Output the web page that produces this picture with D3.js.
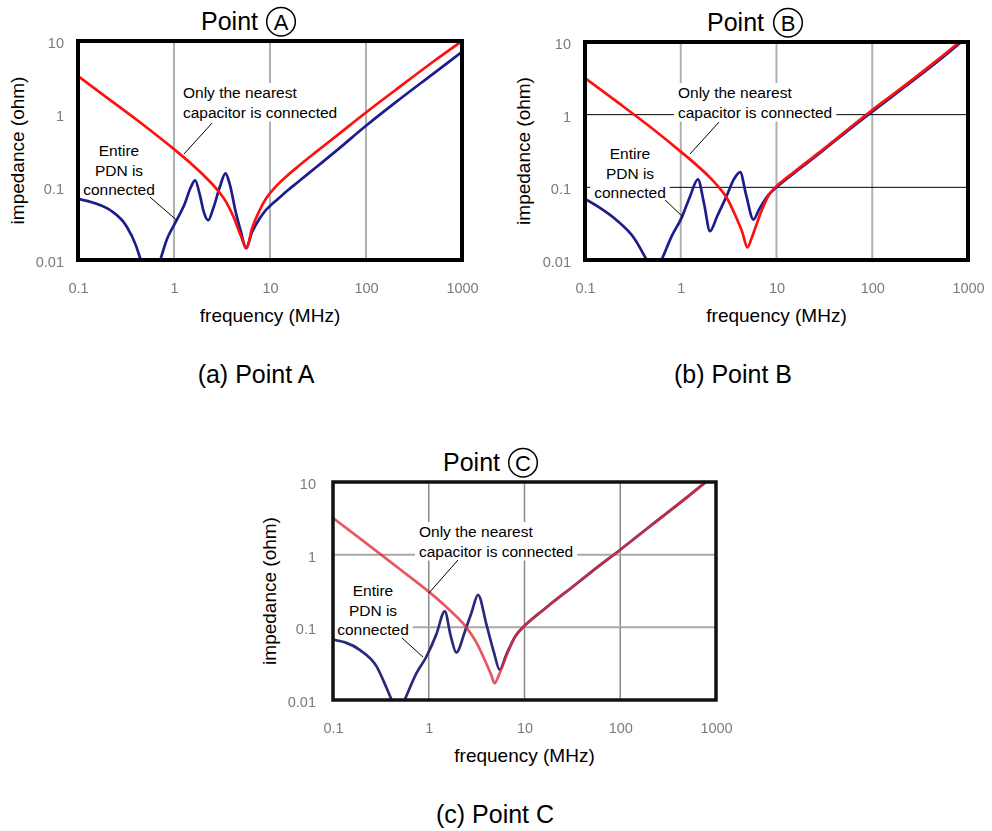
<!DOCTYPE html>
<html><head><meta charset="utf-8">
<script src="https://cdn.jsdelivr.net/npm/d3@7"></script>
<style>body{margin:0;background:#fff;} svg{display:block;font-family:Arial,"Liberation Sans",sans-serif;}</style>
</head><body>
<svg id="chart" width="992" height="831"></svg>
<script>
// ---------- data ----------
const freqTicks = [0.1, 1, 10, 100, 1000];
const freqTickLabels = ["0.1", "1", "10", "100", "1000"];
const impTicks = [0.01, 0.1, 1, 10];
const impTickLabels = ["0.01", "0.1", "1", "10"];
const xTitle = "frequency (MHz)";
const yTitle = "impedance (ohm)";
const pointLetters = ["A", "B", "C"];
const captions = ["(a) Point A", "(b) Point B", "(c) Point C"];
const nearestLabel = ["Only the nearest", "capacitor is connected"];
const entireLabel = ["Entire", "PDN is", "connected"];

// [frequency MHz, impedance ohm]
const pointA_nearest = [[0.1,3.3],[0.2,1.68],[0.5,0.68],[1,0.33],[1.5,0.21],[2,0.148],[2.5,0.11],[3,0.083],[3.5,0.062],[4.13,0.04],[5,0.021],[5.7,0.0145],[6.5,0.027],[7.8,0.048],[9,0.068],[10,0.082],[12,0.108],[15,0.142],[20,0.195],[30,0.3],[50,0.51],[100,1.05],[200,2.1],[500,5.2],[1000,10]];
const pointA_entire = [[0.1,0.069],[0.15,0.06],[0.217,0.048],[0.32,0.029],[0.4,0.016],[0.44,0.011],[0.5,0.0065],[0.58,0.005],[0.66,0.0068],[0.72,0.01],[0.84,0.019],[1,0.03],[1.3,0.06],[1.5,0.1],[1.66,0.123],[1.85,0.08],[2.05,0.045],[2.27,0.035],[2.55,0.05],[3,0.1],[3.44,0.154],[3.8,0.11],[4.4,0.045],[5,0.024],[5.6,0.0145],[6.5,0.024],[7.8,0.037],[9,0.048],[10,0.055],[12,0.068],[15,0.088],[20,0.12],[30,0.185],[50,0.32],[100,0.69],[200,1.42],[500,3.55],[1000,7.1]];

const pointB_nearest = [[0.1,3.2],[0.2,1.62],[0.5,0.65],[1,0.31],[1.5,0.197],[2,0.138],[2.5,0.1],[3,0.073],[3.69,0.042],[4.4,0.024],[4.97,0.0149],[5.5,0.02],[5.97,0.027],[7,0.048],[8.2,0.076],[10,0.104],[12,0.127],[15,0.16],[20,0.215],[30,0.325],[50,0.56],[100,1.16],[200,2.3],[500,5.9],[1000,12.5]];
const pointB_entire = [[0.1,0.069],[0.15,0.05],[0.21,0.036],[0.33,0.0195],[0.44,0.01],[0.5,0.0072],[0.55,0.0062],[0.6,0.0085],[0.66,0.0115],[0.8,0.021],[1.02,0.038],[1.25,0.075],[1.51,0.129],[1.75,0.06],[2.02,0.025],[2.4,0.04],[3,0.075],[3.6,0.13],[4.17,0.162],[4.8,0.08],[5.74,0.036],[6.6,0.05],[8.2,0.078],[10,0.1],[12,0.122],[15,0.154],[20,0.207],[30,0.315],[50,0.54],[100,1.1],[200,2.2],[500,5.6],[1000,12]];

const pointC_nearest = [[0.1,3.2],[0.2,1.6],[0.5,0.63],[1,0.31],[1.5,0.195],[2,0.136],[2.47,0.1],[3.14,0.062],[3.98,0.032],[4.5,0.022],[4.87,0.017],[5.4,0.022],[6.45,0.04],[8,0.075],[10,0.105],[12,0.13],[15,0.165],[20,0.225],[30,0.34],[50,0.58],[100,1.17],[200,2.4],[500,6.2],[1000,13]];
const pointC_entire = [[0.1,0.068],[0.19,0.049],[0.285,0.029],[0.36,0.015],[0.41,0.01],[0.46,0.0075],[0.5,0.0072],[0.56,0.01],[0.74,0.023],[0.95,0.04],[1.2,0.08],[1.47,0.166],[1.7,0.075],[1.94,0.045],[2.4,0.09],[2.8,0.16],[3.27,0.28],[4,0.11],[4.8,0.045],[5.5,0.026],[6.45,0.042],[8,0.075],[10,0.105],[12,0.13],[15,0.165],[20,0.225],[30,0.34],[50,0.58],[100,1.17],[200,2.4],[500,6.2],[1000,13]];

// leader-line anchors in data units: [from text, to curve]
const pointA_leaders = [[[2.49,0.75],[1.27,0.283]], [[0.56,0.073],[1.07,0.035]]];
const pointB_leaders = [[[2.51,0.79],[1.25,0.288]], [[0.686,0.067],[1.056,0.039]]];
const pointC_leaders = [[[2.02,0.845],[1.006,0.297]], [[0.526,0.0713],[0.871,0.039]]];

// ---------- layout ----------
const panels = [
  {id:"A", left:78, right:462, top:41, bottom:260, nearest:pointA_nearest, entire:pointA_entire, leaders:pointA_leaders,
   letter:pointLetters[0], caption:captions[0], titleX:201, titleY:30, circX:281, circY:21.7, capX:256, capY:383,
   yLabRight:64, yTitleX:23.5, nearestPos:[105,57], entirePos:[41,115],
   vGrid:{color:"#b0b0b0", w:2}, hGrid:null, red:"#ff1010", blue:"#1c1c8c", redOp:1, border:4, borderColor:"#000", blur:false},
  {id:"B", left:585, right:968, top:42, bottom:260, nearest:pointB_nearest, entire:pointB_entire, leaders:pointB_leaders,
   letter:pointLetters[1], caption:captions[1], titleX:707, titleY:30.5, circX:788, circY:22.7, capX:733, capY:383,
   yLabRight:571, yTitleX:530, nearestPos:[93,56], entirePos:[45,117],
   vGrid:{color:"#b0b0b0", w:2}, hGrid:{color:"#000", w:1}, red:"#ff1010", blue:"#1c1c8c", redOp:1, border:4, borderColor:"#000", blur:false},
  {id:"C", left:333, right:716, top:482, bottom:700, nearest:pointC_nearest, entire:pointC_entire, leaders:pointC_leaders,
   letter:pointLetters[2], caption:captions[2], titleX:443, titleY:471, circX:523, circY:462.7, capX:495, capY:823,
   yLabRight:316, yTitleX:276, nearestPos:[86,55], entirePos:[40,114],
   vGrid:{color:"#8a8a8a", w:1.5}, hGrid:{color:"#a8a8a8", w:2}, red:"#e0303c", blue:"#2a2a7c", redOp:0.8, border:3.5, borderColor:"#111", blur:true}
];

const svg = d3.select("#chart");
const defs = svg.append("defs");
defs.append("filter").attr("id","soft").append("feGaussianBlur").attr("stdDeviation",0.55);
defs.append("filter").attr("id","softText").append("feGaussianBlur").attr("stdDeviation",0.35);

function drawPanel(p) {
  const g = svg.append("g");
  const x = d3.scaleLog().domain([0.1, 1000]).range([p.left, p.right]);
  const y = d3.scaleLog().domain([0.01, 10]).range([p.bottom, p.top]);

  defs.append("clipPath").attr("id", "clip" + p.id).append("rect")
    .attr("x", p.left).attr("y", p.top).attr("width", p.right - p.left).attr("height", p.bottom - p.top);

  const grid = g.append("g").attr("filter", p.blur ? "url(#soft)" : null);
  grid.selectAll("line.v").data(freqTicks.slice(1, -1)).enter().append("line")
    .attr("x1", d => x(d)).attr("x2", d => x(d)).attr("y1", p.top).attr("y2", p.bottom)
    .attr("stroke", p.vGrid.color).attr("stroke-width", p.vGrid.w);
  if (p.hGrid) {
    grid.selectAll("line.h").data(impTicks.slice(1, -1)).enter().append("line")
      .attr("y1", d => y(d)).attr("y2", d => y(d)).attr("x1", p.left).attr("x2", p.right)
      .attr("stroke", p.hGrid.color).attr("stroke-width", p.hGrid.w);
  }

  // annotation texts with white backgrounds
  function label(lines, px, py, anchor) {
    const lg = g.append("g");
    const t = lg.append("text").attr("font-size", 15.5).attr("fill", "#000").attr("text-anchor", anchor);
    lines.forEach((s, i) => {
      t.append("tspan").attr("x", p.left + px).attr("y", p.top + py + i * 19.5).text(s);
    });
    const bb = t.node().getBBox();
    lg.insert("rect", "text").attr("x", bb.x - 4).attr("y", bb.y - 1).attr("width", bb.width + 8).attr("height", bb.height + 2).attr("fill", "#fff");
  }
  label(nearestLabel, p.nearestPos[0], p.nearestPos[1], "start");
  label(entireLabel, p.entirePos[0], p.entirePos[1], "middle");

  const line = d3.line().x(d => x(d[0])).y(d => y(d[1])).curve(d3.curveMonotoneX);
  const cg = g.append("g").attr("clip-path", "url(#clip" + p.id + ")").attr("filter", p.blur ? "url(#soft)" : null);
  cg.append("path").datum(p.entire).attr("d", line).attr("fill", "none")
    .attr("stroke", p.blue).attr("stroke-width", 2.7).attr("stroke-linejoin", "round");
  cg.append("path").datum(p.nearest).attr("d", line).attr("fill", "none")
    .attr("stroke", p.red).attr("stroke-opacity", p.redOp).attr("stroke-width", 2.7).attr("stroke-linejoin", "round");

  g.selectAll("line.lead").data(p.leaders).enter().append("line")
    .attr("x1", d => x(d[0][0])).attr("y1", d => y(d[0][1]))
    .attr("x2", d => x(d[1][0])).attr("y2", d => y(d[1][1]))
    .attr("stroke", "#000").attr("stroke-width", 1);

  g.append("rect").attr("x", p.left).attr("y", p.top).attr("width", p.right - p.left).attr("height", p.bottom - p.top)
    .attr("fill", "none").attr("stroke", p.borderColor).attr("stroke-width", p.border);

  // axes (labels only)
  const xa = g.append("g").attr("transform", `translate(0,${p.bottom})`)
    .call(d3.axisBottom(x).tickValues(freqTicks).tickFormat((d, i) => freqTickLabels[i]).tickSize(0).tickPadding(23));
  const ya = g.append("g").attr("transform", `translate(${p.left},0)`)
    .call(d3.axisLeft(y).tickValues(impTicks).tickFormat((d, i) => impTickLabels[i]).tickSize(0).tickPadding(p.left - p.yLabRight));
  [xa, ya].forEach(a => {
    a.select(".domain").remove();
    a.attr("font-family", null).attr("font-size", null);
    a.selectAll("text").attr("font-size", 14.5).attr("fill", "#7a7a7a").attr("filter", "url(#softText)");
  });
  ya.selectAll("text").attr("dy", "0.45em");

  g.append("text").attr("x", (p.left + p.right) / 2).attr("y", p.bottom + 62).attr("text-anchor", "middle")
    .attr("font-size", 19).attr("fill", "#000").text(xTitle);
  g.append("text").attr("transform", `translate(${p.yTitleX},${(p.top + p.bottom) / 2}) rotate(-90)`)
    .attr("text-anchor", "middle").attr("font-size", 19).attr("fill", "#000").text(yTitle);

  // title
  g.append("text").attr("x", p.titleX).attr("y", p.titleY).attr("font-size", 25).attr("fill", "#000").text("Point");
  g.append("circle").attr("cx", p.circX).attr("cy", p.circY).attr("r", 14.3).attr("fill", "none").attr("stroke", "#000").attr("stroke-width", 1.5);
  g.append("text").attr("x", p.circX).attr("y", p.circY + 8).attr("text-anchor", "middle").attr("font-size", 22).attr("fill", "#000").text(p.letter);

  // caption
  g.append("text").attr("x", p.capX).attr("y", p.capY).attr("text-anchor", "middle").attr("font-size", 25).attr("fill", "#000").text(p.caption);
}

panels.forEach(drawPanel);
</script>
</body></html>
